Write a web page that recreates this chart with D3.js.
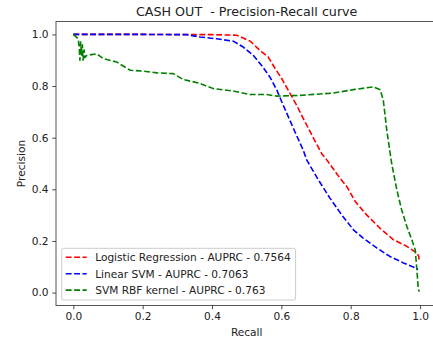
<!DOCTYPE html>
<html>
<head>
<meta charset="utf-8">
<script src="https://cdn.jsdelivr.net/npm/d3@7"></script>
<style>
  body { margin: 0; background: #fff; }
  svg text { font-family: "DejaVu Sans", sans-serif; fill: #222; }
</style>
</head>
<body>
<script>

//------------------------------------------------------------------------------
//
// Data
//
//------------------------------------------------------------------------------

var chartTitle = "CASH OUT  - Precision-Recall curve";

var seriesNames = [
  "Logistic Regression - AUPRC - 0.7564",
  "Linear SVM - AUPRC - 0.7063",
  "SVM RBF kernel - AUPRC - 0.763"
];
var seriesColors = ["#ff0000", "#0000ff", "#008000"];

// [recall, precision]
var logisticPoints = [
  [0, 1.0], [0.20, 1.0], [0.40, 0.999], [0.471, 0.997], [0.510, 0.974],
  [0.538, 0.938], [0.562, 0.912], [0.582, 0.868], [0.601, 0.829], [0.625, 0.771],
  [0.644, 0.726], [0.663, 0.675], [0.688, 0.610], [0.716, 0.539], [0.731, 0.514],
  [0.769, 0.443], [0.789, 0.410], [0.813, 0.353], [0.846, 0.301], [0.884, 0.250],
  [0.923, 0.205], [0.962, 0.179], [0.988, 0.156], [0.996, 0.143], [0.997, 0.128]
];

var linearSvmPoints = [
  [0, 1.0], [0.20, 1.0], [0.328, 0.999], [0.365, 0.990], [0.414, 0.983],
  [0.461, 0.974], [0.490, 0.951], [0.519, 0.919], [0.543, 0.880], [0.567, 0.835],
  [0.587, 0.784], [0.601, 0.739], [0.620, 0.681], [0.639, 0.623], [0.663, 0.552],
  [0.673, 0.514], [0.707, 0.436], [0.740, 0.366], [0.774, 0.301], [0.808, 0.243],
  [0.836, 0.211], [0.875, 0.173], [0.913, 0.140], [0.952, 0.115], [0.988, 0.095],
  [0.994, 0.089]
];

var rbfSvmPoints = [
  [0, 1.0], [0.014, 0.983], [0.017, 0.95], [0.019, 0.90], [0.021, 0.97],
  [0.024, 0.92], [0.026, 0.96], [0.028, 0.90], [0.031, 0.94], [0.033, 0.91],
  [0.039, 0.919], [0.067, 0.925], [0.087, 0.906], [0.125, 0.893], [0.164, 0.861],
  [0.202, 0.858], [0.241, 0.851], [0.288, 0.848], [0.317, 0.825], [0.361, 0.812],
  [0.404, 0.790], [0.461, 0.781], [0.510, 0.767], [0.558, 0.767], [0.587, 0.761],
  [0.654, 0.764], [0.750, 0.773], [0.808, 0.786], [0.865, 0.797], [0.885, 0.786],
  [0.894, 0.745], [0.904, 0.629], [0.918, 0.501], [0.933, 0.398], [0.947, 0.320],
  [0.962, 0.256], [0.976, 0.205], [0.986, 0.166], [0.990, 0.102], [0.995, 0.012],
  [0.998, 0.004]
];

var xTicks = [0.0, 0.2, 0.4, 0.6, 0.8, 1.0];
var yTicks = [0.0, 0.2, 0.4, 0.6, 0.8, 1.0];


//------------------------------------------------------------------------------
//
// Layout
//
//------------------------------------------------------------------------------

var width = 433, height = 341;
var plot = { left: 56, right: 437.4, top: 21.5, bottom: 305.5 };
var fontSize = 10.6;
var tickLength = 3.7, tickPad = 3.7;

var x = d3.scaleLinear().domain([-0.05, 1.05]).range([plot.left, plot.right]);
var y = d3.scaleLinear().domain([-0.05, 1.05]).range([plot.bottom, plot.top]);

var svg = d3.select("body").append("svg")
  .attr("width", width)
  .attr("height", height);

svg.append("defs").append("clipPath")
  .attr("id", "plot-clip")
  .append("rect")
    .attr("x", plot.left)
    .attr("y", plot.top)
    .attr("width", plot.right - plot.left)
    .attr("height", plot.bottom - plot.top);


//--------------------------------------
// Curves
//--------------------------------------

var line = d3.line()
  .x(function(d) { return x(d[0]); })
  .y(function(d) { return y(d[1]); });

var allSeries = [logisticPoints, linearSvmPoints, rbfSvmPoints];

svg.append("g")
  .attr("clip-path", "url(#plot-clip)")
  .selectAll("path")
  .data(allSeries)
  .enter().append("path")
    .attr("d", line)
    .attr("fill", "none")
    .attr("stroke", function(d, i) { return seriesColors[i]; })
    .attr("stroke-width", 1.6)
    .attr("stroke-dasharray", "5.9,2.5")
    .attr("stroke-linejoin", "round");


//--------------------------------------
// Axes
//--------------------------------------

var xAxis = d3.axisBottom(x)
  .tickValues(xTicks)
  .tickFormat(d3.format(".1f"))
  .tickSizeInner(tickLength)
  .tickSizeOuter(0)
  .tickPadding(tickPad);

var yAxis = d3.axisLeft(y)
  .tickValues(yTicks)
  .tickFormat(d3.format(".1f"))
  .tickSizeInner(tickLength)
  .tickSizeOuter(0)
  .tickPadding(tickPad);

var gx = svg.append("g")
  .attr("transform", "translate(0," + plot.bottom + ")")
  .call(xAxis);
var gy = svg.append("g")
  .attr("transform", "translate(" + plot.left + ",0)")
  .call(yAxis);

[gx, gy].forEach(function(g) {
  g.select(".domain").remove();
  g.selectAll(".tick line").attr("stroke", "#333").attr("stroke-width", 0.9);
  g.selectAll(".tick text")
    .attr("font-size", fontSize)
    .attr("font-family", "DejaVu Sans, sans-serif")
    .style("fill", "#222");
});

// Spines (the right one falls outside the window, as in the original)
svg.append("rect")
  .attr("x", plot.left)
  .attr("y", plot.top)
  .attr("width", plot.right - plot.left)
  .attr("height", plot.bottom - plot.top)
  .attr("fill", "none")
  .attr("stroke", "#555")
  .attr("stroke-width", 1);


//--------------------------------------
// Labels
//--------------------------------------

svg.append("text")
  .attr("x", (plot.left + plot.right) / 2)
  .attr("y", 15.5)
  .attr("text-anchor", "middle")
  .attr("font-size", 12.7)
  .style("white-space", "pre")
  .text(chartTitle);

svg.append("text")
  .attr("x", (plot.left + plot.right) / 2)
  .attr("y", 336)
  .attr("text-anchor", "middle")
  .attr("font-size", fontSize)
  .text("Recall");

svg.append("text")
  .attr("transform", "translate(25," + ((plot.top + plot.bottom) / 2) + ") rotate(-90)")
  .attr("text-anchor", "middle")
  .attr("font-size", fontSize)
  .text("Precision");


//--------------------------------------
// Legend
//--------------------------------------

var legend = svg.append("g").attr("transform", "translate(61.7,248.3)");
var legendBox = legend.append("rect")
  .attr("rx", 2).attr("ry", 2)
  .attr("fill", "#fff")
  .attr("fill-opacity", 0.8)
  .attr("stroke", "#cccccc")
  .attr("stroke-width", 1);

var rowGap = 16.4;
var rows = legend.selectAll(".legend-row")
  .data(seriesNames)
  .enter().append("g")
    .attr("class", "legend-row")
    .attr("transform", function(d, i) { return "translate(0," + (9 + i * rowGap) + ")"; });

rows.append("line")
  .attr("x1", 4).attr("x2", 25)
  .attr("stroke", function(d, i) { return seriesColors[i]; })
  .attr("stroke-width", 1.6)
  .attr("stroke-dasharray", "5.9,2.5");

rows.append("text")
  .attr("x", 33.5)
  .attr("dy", "0.36em")
  .attr("font-size", fontSize)
  .text(function(d) { return d; });

var maxText = d3.max(rows.selectAll("text").nodes(), function(n) { return n.getComputedTextLength(); });
legendBox
  .attr("width", 33.5 + maxText + 5)
  .attr("height", 51.7);

</script>
</body>
</html>
